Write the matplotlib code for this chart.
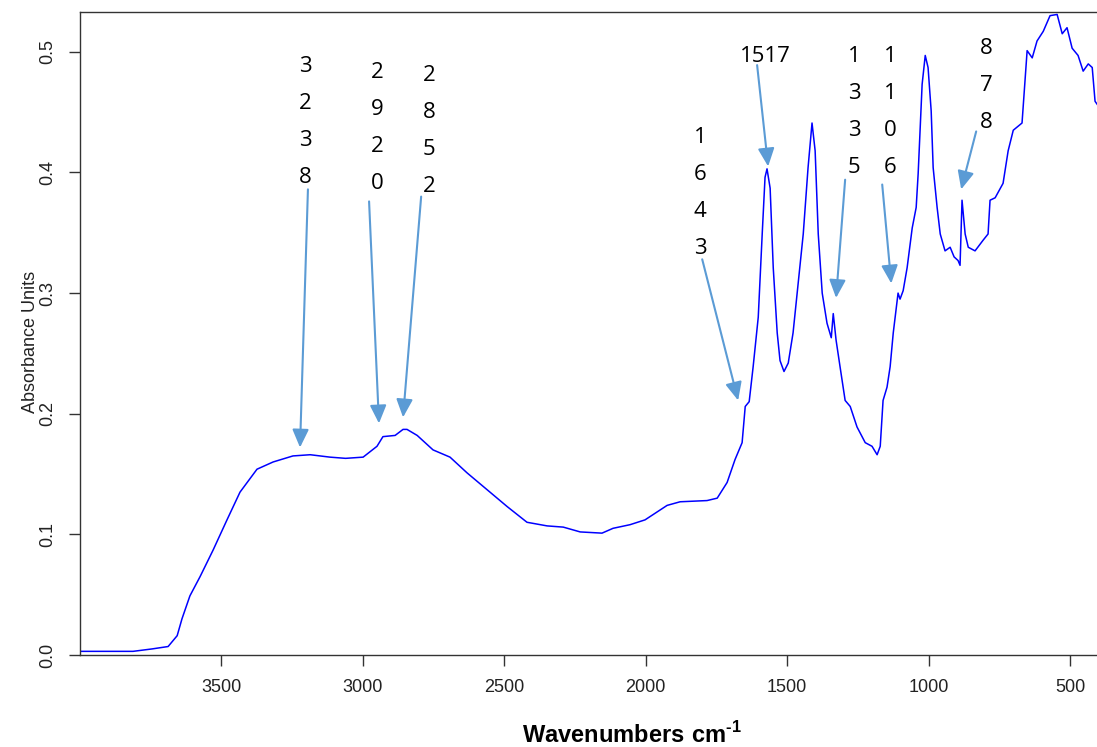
import matplotlib
matplotlib.use('Agg')
import matplotlib.pyplot as plt

plt.rcParams['font.family'] = ['Liberation Sans', 'DejaVu Sans']
plt.rcParams['mathtext.fontset'] = 'custom'
plt.rcParams['mathtext.bf'] = 'Liberation Sans:bold'
plt.rcParams['mathtext.rm'] = 'Liberation Sans:bold'

# spectrum (wavenumber, absorbance)
wavenumbers = [4000, 3811, 3744, 3687, 3655, 3638, 3610, 3574, 3528, 3479,
               3433, 3373, 3316, 3246, 3185, 3115, 3060, 2998, 2949, 2928,
               2885, 2857, 2843, 2807, 2751, 2691, 2631, 2560, 2489, 2419,
               2348, 2291, 2231, 2154, 2115, 2055, 2002, 1924, 1878, 1783,
               1747, 1712, 1684, 1659, 1648, 1634, 1620, 1602, 1588, 1578,
               1571, 1560, 1549, 1535, 1525, 1511, 1496, 1479, 1461, 1443,
               1426, 1412, 1401, 1390, 1376, 1359, 1344, 1337, 1327, 1313,
               1295, 1277, 1253, 1224, 1200, 1182, 1171, 1161, 1147, 1136,
               1125, 1108, 1101, 1090, 1076, 1058, 1044, 1037, 1023, 1012,
               1002, 991, 984, 970, 959, 942, 924, 910, 896, 889,
               882, 871, 860, 836, 807, 790, 783, 765, 737, 719,
               701, 670, 652, 634, 617, 595, 571, 546, 528, 511,
               493, 472, 454, 436, 422, 412, 400]
absorbance = [0.003, 0.003, 0.005, 0.007, 0.016, 0.030, 0.049, 0.065, 0.087, 0.112,
              0.135, 0.154, 0.160, 0.165, 0.166, 0.164, 0.163, 0.164, 0.173, 0.181,
              0.182, 0.187, 0.187, 0.182, 0.170, 0.164, 0.151, 0.137, 0.123, 0.110,
              0.107, 0.106, 0.102, 0.101, 0.105, 0.108, 0.112, 0.124, 0.127, 0.128,
              0.130, 0.143, 0.162, 0.176, 0.206, 0.210, 0.239, 0.280, 0.349, 0.396,
              0.403, 0.387, 0.321, 0.267, 0.244, 0.235, 0.242, 0.267, 0.308, 0.349,
              0.404, 0.441, 0.418, 0.349, 0.300, 0.275, 0.263, 0.283, 0.261, 0.239,
              0.211, 0.206, 0.189, 0.176, 0.173, 0.166, 0.173, 0.211, 0.222, 0.239,
              0.267, 0.300, 0.295, 0.302, 0.321, 0.354, 0.371, 0.399, 0.473, 0.497,
              0.487, 0.451, 0.404, 0.371, 0.349, 0.335, 0.338, 0.330, 0.327, 0.323,
              0.377, 0.349, 0.338, 0.335, 0.344, 0.349, 0.377, 0.379, 0.391, 0.418,
              0.435, 0.441, 0.501, 0.495, 0.509, 0.517, 0.530, 0.531, 0.515, 0.520,
              0.503, 0.497, 0.484, 0.490, 0.487, 0.459, 0.455]

x_ticks = [3500, 3000, 2500, 2000, 1500, 1000, 500]
y_ticks = [0.0, 0.1, 0.2, 0.3, 0.4, 0.5]

# peak labels: text, text position, arrow start, arrow tip
peak_labels = ['3\n2\n3\n8', '2\n9\n2\n0', '2\n8\n5\n2', '1\n6\n4\n3',
               '1517', '1\n3\n3\n5', '1\n1\n0\n6', '8\n7\n8']
label_pos = [(3203, 0.4415), (2949, 0.4366), (2765, 0.4345), (1807, 0.3827),
             (1578, 0.4959), (1263, 0.4498), (1136, 0.4498), (797, 0.4718)]
arrow_start = [(3193, 0.386), (2977, 0.376), (2793, 0.380), (1800, 0.328),
               (1606, 0.489), (1295, 0.394), (1164, 0.390), (832, 0.434)]
arrow_tip = [(3221, 0.172), (2942, 0.192), (2857, 0.197), (1673, 0.211),
             (1567, 0.405), (1327, 0.296), (1132, 0.308), (885, 0.386)]

fig = plt.figure(figsize=(10.97, 7.47), dpi=100)
ax = fig.add_axes([0.0725, 0.1232, 0.9394, 0.8607])

ax.plot(wavenumbers, absorbance, color='#0000ff', lw=1.1)

ax.set_xlim(4000, 359)
ax.set_ylim(0, 0.533)
ax.set_xticks(x_ticks)
ax.set_xticklabels([str(t) for t in x_ticks])
ax.set_yticks(y_ticks)
ax.set_yticklabels(['%.1f' % t for t in y_ticks], rotation=90, va='center')

ax.tick_params(direction='out', length=8, width=1, colors='#333333',
               labelsize=13, labelcolor='#222222')
ax.tick_params(axis='x', pad=9)
ax.tick_params(axis='y', pad=9)
for s in ax.spines.values():
    s.set_color('#333333')
    s.set_linewidth(1)

ax.set_xlabel(r'$\mathbf{Wavenumbers\ cm}^{\mathbf{\text{-}1}}$', fontsize=17, va='center', color='black')
ax.xaxis.set_label_coords(0.536, -0.124)
ax.set_ylabel('Absorbance Units', fontsize=13, va='center', color='#222222')
ax.yaxis.set_label_coords(-0.048, 0.487)

for i in range(len(peak_labels)):
    ax.annotate('', xy=arrow_tip[i], xytext=arrow_start[i],
                arrowprops=dict(arrowstyle='-|>,head_length=1.1,head_width=0.5',
                                color='#5b9bd5', lw=1.5, shrinkA=0, shrinkB=0))
    ax.text(label_pos[i][0], label_pos[i][1], peak_labels[i], ha='center', va='center',
            fontsize=16, family=['Open Sans', 'DejaVu Sans'], linespacing=2.0, color='black')

fig.savefig('out.png', dpi=100)
